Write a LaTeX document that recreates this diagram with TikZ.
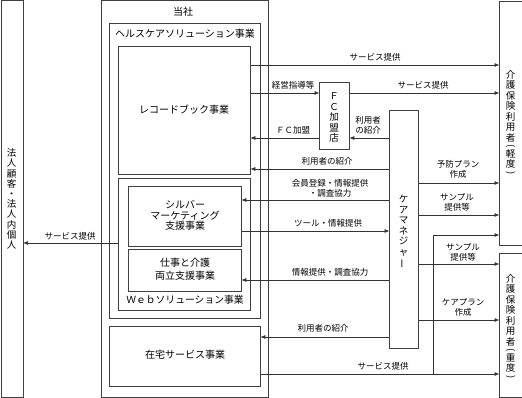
\documentclass[tikz,border=0pt]{standalone}
\usepackage{fontspec}
\usepackage{graphicx}
\setmainfont{Noto Sans CJK JP}
\usetikzlibrary{arrows.meta}
\newcommand\vlp{\rotatebox[origin=c]{-90}{(}}
\newcommand\vrp{\rotatebox[origin=c]{-90}{)}}
\newcommand\vbar{\rotatebox[origin=c]{90}{ー}}
\begin{document}
\begin{tikzpicture}[x=1pt,y=-1pt,
  box/.style={draw=black!75, line width=0.8pt, inner sep=0pt, anchor=north west},
  arr/.style={draw=black!80, line width=0.6pt, -{Triangle[length=4.5pt,width=3.5pt]}},
  plain/.style={draw=black!80, line width=0.6pt},
  lbl/.style={font=\fontsize{8.5}{10}\selectfont, inner sep=0pt, align=center},
  big/.style={font=\fontsize{10}{12}\selectfont, inner sep=0pt, align=center},
  vtxt/.style={font=\fontsize{9.5}{10.5}\selectfont, inner sep=0pt, align=center},
]
\useasboundingbox (0,0) rectangle (522,398);
% boxes
\node[box, minimum width=22.2pt, minimum height=396.5pt] (cust) at (0.5,0.5) {};
\node[box, minimum width=166.5pt, minimum height=396.5pt] (tosha) at (101,0.5) {};
\node[box, minimum width=151pt, minimum height=295pt] (hc) at (109,23) {};
\node[box, minimum width=132pt, minimum height=128pt] (rb) at (118,46) {};
\node[box, minimum width=132pt, minimum height=132pt] (web) at (118,178) {};
\node[box, minimum width=113pt, minimum height=60pt] (silver) at (128,186) {};
\node[box, minimum width=113pt, minimum height=42pt] (shigoto) at (128,249) {};
\node[box, minimum width=151pt, minimum height=60pt] (zaitaku) at (109,326) {};
\node[box, minimum width=22.5pt, minimum height=244pt] (keido) at (499,1) {};
\node[box, minimum width=22.5pt, minimum height=144pt] (judo) at (499,253) {};
\node[box, minimum width=30pt, minimum height=67pt] (fc) at (319,82) {};
\node[box, minimum width=29pt, minimum height=238pt] (cm) at (389,110) {};

% box texts
\node[big] (tTosha) at (183,12) {当社};
\node[big] (tHc) at (185,34) {ヘルスケアソリューション事業};
\node[big] (tRb) at (184,110) {レコードブック事業};
\node[big, font=\fontsize{10}{10.5}\selectfont] (tSil) at (185,215.5) {シルバー\\マーケティング\\支援事業};
\node[big, font=\fontsize{10}{12.7}\selectfont] (tShi) at (185,269.5) {仕事と介護\\両立支援事業};
\node[big, font=\fontsize{9.8}{12}\selectfont] (tWeb) at (185,300) {Ｗｅｂソリューション事業};
\node[big] (tZai) at (185,355) {在宅サービス事業};
\node[vtxt, font=\fontsize{9.5}{10.2}\selectfont] (tCust) at (11.6,199) {法\\人\\顧\\客\\・\\法\\人\\内\\個\\人};
\node[vtxt] (tKei) at (510.5,123) {介\\護\\保\\険\\利\\用\\者\\[-2.5pt]\vlp\\[-2.5pt]軽\\度\\[-2.5pt]\vrp};
\node[vtxt] (tJu) at (510.5,327) {介\\護\\保\\険\\利\\用\\者\\[-2.5pt]\vlp\\[-2.5pt]重\\度\\[-2.5pt]\vrp};
\node[vtxt] (tFc) at (334,117.5) {Ｆ\\Ｃ\\加\\盟\\店};
\node[vtxt] (tCm) at (403.5,232) {ケ\\ア\\マ\\ネ\\ジ\\ャ\\\vbar};

% connectors
\draw[arr] (rb.east |- 0,65) -- (keido.west |- 0,65);
\node[lbl] (l1) at (375,57) {サービス提供};
\draw[arr] (rb.east |- 0,93) -- (fc.west |- 0,93);
\node[lbl] (l2) at (293,85) {経営指導等};
\draw[arr] (fc.east |- 0,93) -- (keido.west |- 0,93);
\node[lbl] (l3) at (423,85) {サービス提供};
\draw[arr] (cm.west |- 0,138) -- (fc.east |- 0,138);
\node[lbl] (l4) at (368,125) {利用者\\の紹介};
\draw[arr] (fc.west |- 0,138) -- (rb.east |- 0,138);
\node[lbl] (l5) at (293,130) {ＦＣ加盟};
\draw[arr] (cm.west |- 0,169) -- (rb.east |- 0,169);
\node[lbl] (l6) at (327,161) {利用者の紹介};
\draw[arr] (cm.west |- 0,200) -- (silver.east |- 0,200);
\node[lbl] (l7) at (330,188) {会員登録・情報提供\\・調査協力};
\draw[arr] (silver.east |- 0,231) -- (cm.west |- 0,231);
\node[lbl] (l8) at (328,223) {ツール・情報提供};
\draw[arr] (cm.west |- 0,280) -- (shigoto.east |- 0,280);
\node[lbl] (l9) at (330,272) {情報提供・調査協力};
\draw[arr] (cm.west |- 0,337) -- (zaitaku.east |- 0,337);
\node[lbl] (l10) at (323,328) {利用者の紹介};
\draw[arr] (zaitaku.east |- 0,374) -- (judo.west |- 0,374);
\node[lbl] (l11) at (383,366) {サービス提供};
\coordinate (br) at (433,374);
\draw[arr] (br) |- (keido.west |- 0,235);
\draw[arr] (cm.east |- 0,183) -- (keido.west |- 0,183);
\node[lbl] (l12) at (458,169) {予防プラン\\作成};
\draw[arr] (cm.east |- 0,215) -- (keido.west |- 0,215);
\node[lbl] (l13) at (457,202) {サンプル\\提供等};
\draw[arr] (cm.east |- 0,264) -- (judo.west |- 0,264);
\node[lbl] (l14) at (463,252) {サンプル\\提供等};
\draw[arr] (cm.east |- 0,320) -- (judo.west |- 0,320);
\node[lbl] (l15) at (463,307) {ケアプラン\\作成};
\draw[arr] (web.west |- 0,243) -- (cust.east |- 0,243);
\node[lbl] (l16) at (70,236) {サービス提供};
\end{tikzpicture}
\end{document}
